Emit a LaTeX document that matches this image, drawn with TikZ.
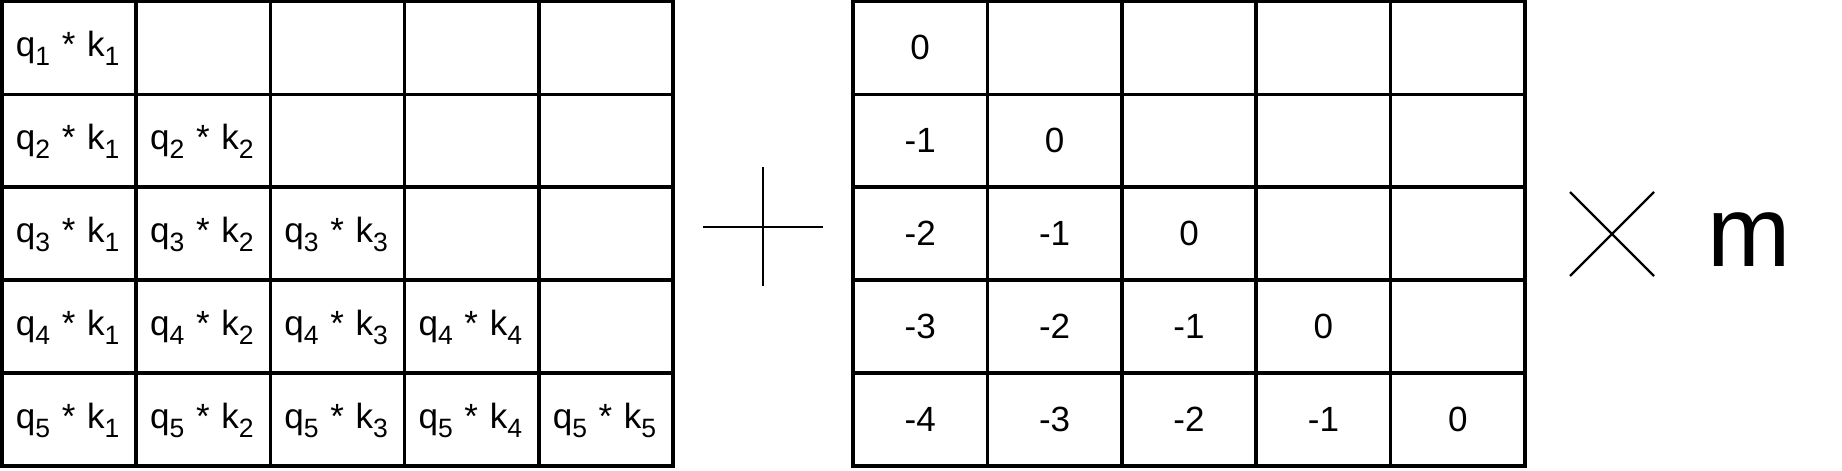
\documentclass[tikz,border=0pt]{standalone}
\usepackage{fontspec}
\setmainfont{Liberation Sans}
\newcommand\sbx[1]{\raisebox{-0.09cm}{\fontsize{0.265cm}{0.3cm}\selectfont #1}}
\begin{document}
\begin{tikzpicture}[x=0.01cm,y=-0.01cm,
  cell/.style={draw,line width=1pt,rectangle,minimum width=1.342cm,minimum height=0.929cm,inner sep=0pt,font=\fontsize{0.35cm}{0.42cm}\selectfont},
  lcell/.style={cell,inner xsep=0.14cm,text width=1.062cm,align=left,text height=0.24cm,text depth=0.06cm},
  rcell/.style={cell},
  op/.style={line width=0.75pt}]
\useasboundingbox (0,0) rectangle (1842,471);
\foreach \i in {1,...,5}{
  \foreach \j in {1,...,5}{
    \pgfmathsetmacro\lx{2+134.2*(\j-0.5)}
    \pgfmathsetmacro\rx{853+134.4*(\j-0.5)}
    \pgfmathsetmacro\cy{1.5+92.9*(\i-0.5)}
    \ifnum\j>\i\relax
      \node[lcell] (L\i\j) at (\lx,\cy) {};
      \node[rcell] (R\i\j) at (\rx,\cy) {};
    \else
      \node[lcell] (L\i\j) at (\lx,\cy) {q\sbx{\i} * k\sbx{\j}};
      \node[rcell] (R\i\j) at (\rx,\cy) {\number\numexpr\j-\i\relax};
    \fi
  }
}
% plus
\coordinate (pl) at (703,227);
\coordinate (pr) at (823,227);
\coordinate (pt) at (763,167);
\coordinate (pb) at (763,286);
\draw[op] (pl) -- (pr);
\draw[op] (pt) -- (pb);
% times
\coordinate (ta) at (1570,192);
\coordinate (tb) at (1654,276);
\coordinate (tc) at (1570,276);
\coordinate (td) at (1654,192);
\draw[line width=0.65pt] (ta) -- (tb);
\draw[line width=0.65pt] (tc) -- (td);
\node[font=\fontsize{1.0cm}{1.2cm}\selectfont,anchor=base,inner sep=0pt] (m) at (1749,267) {m};
\end{tikzpicture}
\end{document}
